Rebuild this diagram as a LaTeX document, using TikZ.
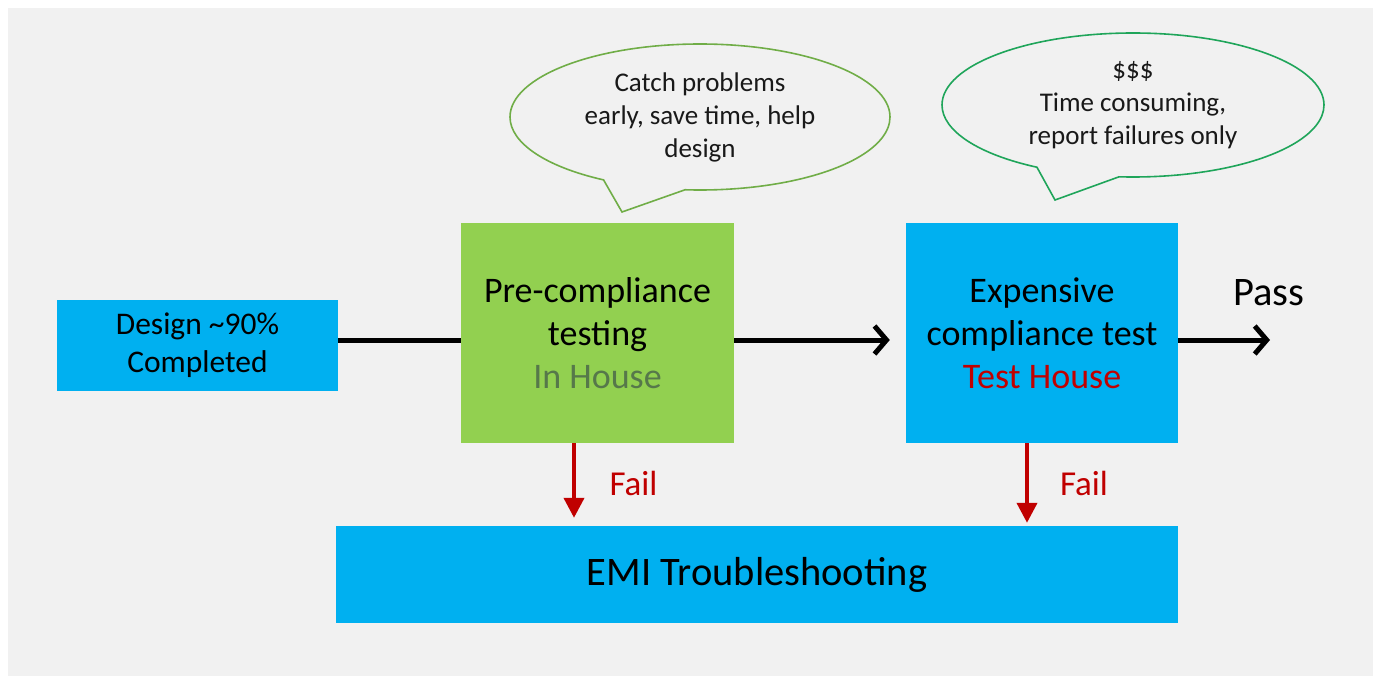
\documentclass[tikz,border=0pt]{standalone}
\usepackage{fontspec}
\setmainfont{Carlito}
\usetikzlibrary{arrows.meta,shapes.callouts}

\definecolor{bgcol}{HTML}{F1F1F1}
\definecolor{boxblue}{HTML}{00B0F0}
\definecolor{boxgreen}{HTML}{92D050}
\definecolor{failred}{HTML}{C00000}
\definecolor{househue}{HTML}{56784A}
\definecolor{calloutA}{HTML}{70AD47}
\definecolor{calloutB}{HTML}{1FA55A}

\begin{document}
\begin{tikzpicture}[x=1pt,y=-1pt,
  stagebox/.style={draw=none,inner sep=0pt,align=center,text=black},
  flowline/.style={line width=5pt,black},
  flowarrow/.style={flowline,-{Straight Barb[length=12pt,width=28pt,line width=5pt]}},
  failarrow/.style={line width=4pt,failred,-{Triangle[length=20pt,width=20pt]}},
  bubble/.style={ellipse callout,draw,line width=1.6pt,fill=bgcol,inner sep=0pt,
    align=center,callout pointer arc=26,
    font=\fontsize{27}{33}\selectfont,text=black!90},
  boxfont/.style={font=\fontsize{36}{43}\selectfont}
]
\useasboundingbox (0,0) rectangle (1373,676);
\fill[bgcol] (8,8) rectangle (1373,676);

% process stages
\node[stagebox,fill=boxblue,minimum width=281pt,minimum height=91pt,
      font=\fontsize{31.5}{38}\selectfont] (design) at (197.5,345.5)
      {\raisebox{-2pt}{Design \textasciitilde 90\%}\\\raisebox{-2pt}{Completed}};
\node[stagebox,boxfont,fill=boxgreen,minimum width=273pt,minimum height=220pt] (pre) at (597.5,333)
      {Pre-compliance\\testing\\\textcolor{househue}{In House}};
\node[stagebox,boxfont,fill=boxblue,minimum width=272pt,minimum height=220pt] (exp) at (1042,333)
      {Expensive\\compliance test\\\textcolor{failred}{Test House}};
\node[stagebox,fill=boxblue,minimum width=842pt,minimum height=97pt,
      font=\fontsize{40.5}{48}\selectfont] (emi) at (757,574.5) {EMI Troubleshooting};

% outcome
\node[inner sep=0pt,font=\fontsize{40.5}{48}\selectfont] (pass) at (1269,293) {Pass};
\coordinate (passend) at (1270,340);

% main flow
\draw[flowline] (design.east |- 0,340) -- (pre.west |- 0,340);
\draw[flowarrow,shorten >=16pt] (pre.east |- 0,340) -- (exp.west |- 0,340);
\draw[flowarrow] (exp.east |- 0,340) -- (passend);

% failure paths
\draw[failarrow,shorten >=8pt] ([xshift=-23.5pt]pre.south) -- ([xshift=-23.5pt]pre.south |- emi.north);
\draw[failarrow,shorten >=3pt] ([xshift=-15pt]exp.south) -- ([xshift=-15pt]exp.south |- emi.north);
\node[inner sep=0pt,text=failred,font=\fontsize{35}{42}\selectfont] (fail1) at (633.5,483) {Fail};
\node[inner sep=0pt,text=failred,font=\fontsize{35}{42}\selectfont] (fail2) at (1084,483) {Fail};

% speech bubbles
\node[bubble,draw=calloutA,minimum width=380pt,minimum height=146pt,
      callout absolute pointer={(622,212)}] (note1) at (700,117)
      {Catch problems\\early, save time, help\\design};
\node[bubble,draw=calloutB,minimum width=382pt,minimum height=144pt,
      callout absolute pointer={(1055,200)}] (note2) at (1133,105)
      {\$\$\$\\Time consuming,\\report failures only};
\end{tikzpicture}
\end{document}
